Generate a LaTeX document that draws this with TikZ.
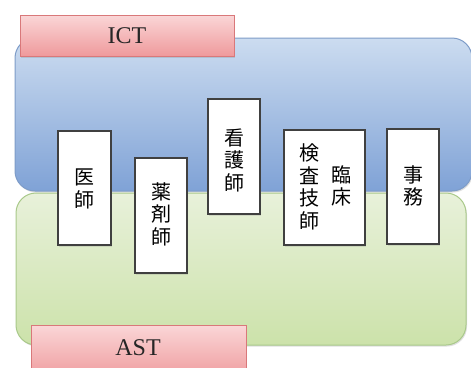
\documentclass[tikz,border=0pt]{standalone}
\usepackage{fontspec}
\setmainfont{Liberation Serif}
\newfontfamily\cjk{Noto Sans CJK JP}
\usetikzlibrary{shadows}
\definecolor{blueT}{HTML}{CCDCF0}
\definecolor{blueB}{HTML}{7FA2D6}
\definecolor{blueD}{HTML}{7E9CC8}
\definecolor{greenT}{HTML}{E8F1DA}
\definecolor{greenB}{HTML}{CCE2AA}
\definecolor{greenD}{HTML}{A9C98A}
\definecolor{pinkT}{HTML}{FAD6D7}
\definecolor{pinkB}{HTML}{EF9A9C}
\definecolor{pinkD}{HTML}{D9787A}
\tikzset{
  x=1pt, y=-1pt,
  group/.style={rounded corners=20pt, line width=1pt, drop shadow={opacity=0.25, shadow xshift=1pt, shadow yshift=-1.5pt}},
  tag/.style={line width=1pt, draw=pinkD, top color=pinkT, bottom color=pinkB, drop shadow={opacity=0.25, shadow xshift=1pt, shadow yshift=-1.5pt}},
  rolebox/.style={draw=black!75, line width=1.6pt, fill=white, drop shadow={opacity=0.2, shadow xshift=1pt, shadow yshift=-1.5pt}},
  roletext/.style={font=\cjk\fontsize{20}{22.5}\selectfont, align=center, inner sep=0pt},
  tagtext/.style={font=\fontsize{24}{26}\selectfont, text=black!85, inner sep=0pt}
}
\begin{document}
\begin{tikzpicture}
\clip (0,0) rectangle (471,367);
\fill[white] (0,0) rectangle (471,367);
% groups
\draw[group, draw=blueD, top color=blueT, bottom color=blueB] (15,38) rectangle (472,191);
\draw[group, draw=greenD, top color=greenT, bottom color=greenB] (16,193) rectangle (466,345);
% tags
\draw[tag] (20,15) rectangle (234,56);
\node[tagtext] (ict) at (127,36) {ICT};
\draw[tag] (31,325) rectangle (246,380);
\node[tagtext] (ast) at (138,348) {AST};
% role boxes
\draw[rolebox] (58,131) rectangle (111,245);
\node[roletext] (ishi) at (84.5,189) {医\\師};
\draw[rolebox] (135,158) rectangle (187,273);
\node[roletext] (yaku) at (161,214) {薬\\剤\\師};
\draw[rolebox] (208,99) rectangle (260,214);
\node[roletext] (kango) at (234,160) {看\\護\\師};
\draw[rolebox] (284,130) rectangle (365,245);
\node[roletext] (kensa) at (309,187) {検\\査\\技\\師};
\node[roletext] (rinsho) at (341,186) {臨\\床};
\draw[rolebox] (387,129) rectangle (439,244);
\node[roletext] (jimu) at (413,186) {事\\務};
\end{tikzpicture}
\end{document}
